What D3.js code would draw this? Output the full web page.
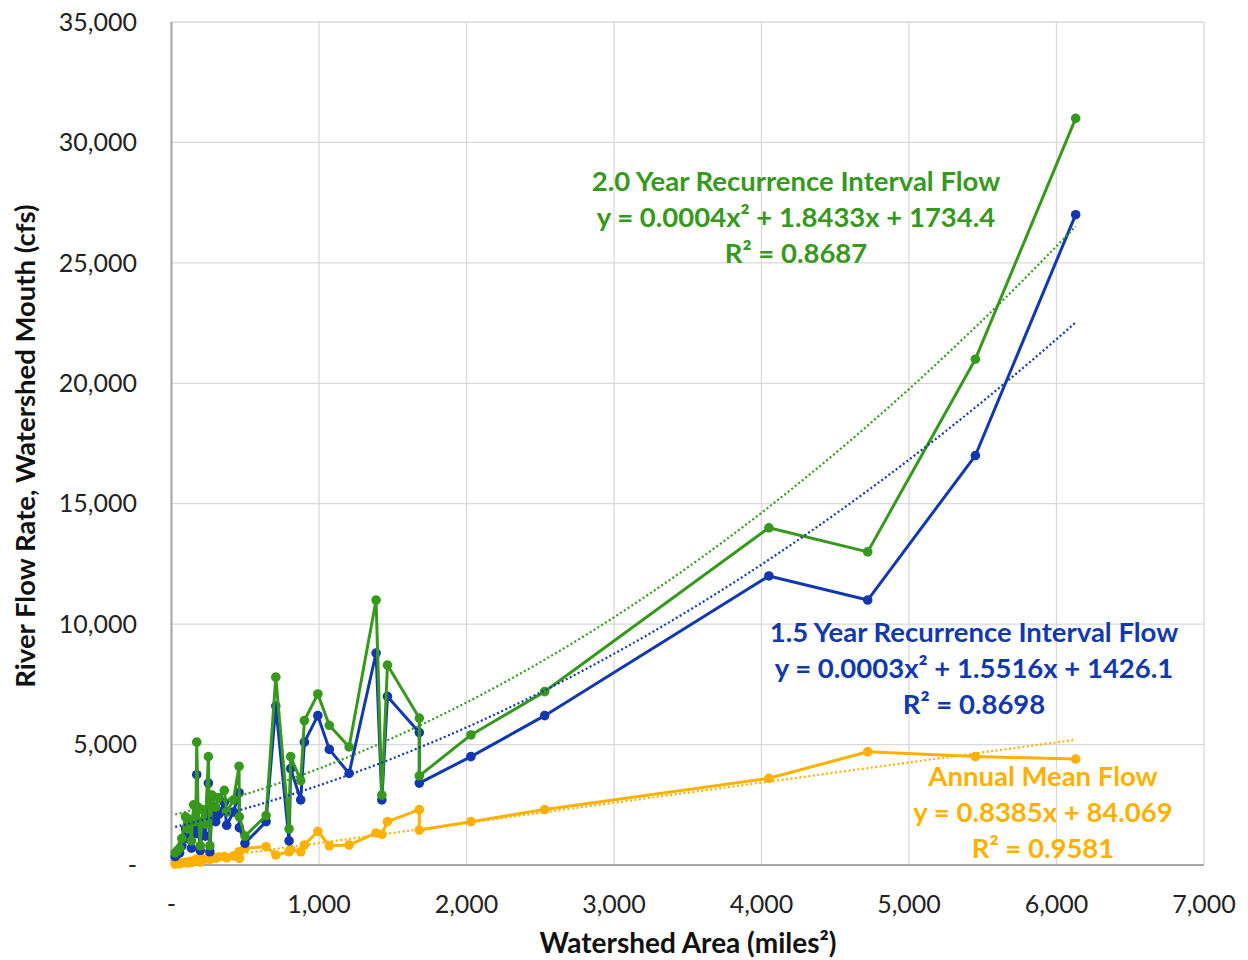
<!DOCTYPE html>
<html>
<head>
  <meta charset="utf-8">
  <title>River Flow Rate vs Watershed Area</title>
  <style>
    body { margin: 0; background: white; font-family: Lato, "Open Sans", sans-serif; }
    .tick-label { font-size: 25px; fill: #222; }
    .axis-title { font-size: 28px; font-weight: bold; fill: #111; }
    .fit-label { font-size: 27.5px; font-weight: bold; text-anchor: middle; }
  </style>
  <script src="https://d3js.org/d3.v7.min.js"></script>
</head>
<body>
  <svg id="chart" width="1248" height="960"></svg>
  <script>
    // watershed area (miles²), in the order of the source table
    const area = [25, 40, 55, 70, 95, 110, 120, 135, 150, 165, 171, 180, 195, 210, 230, 250, 260, 275, 300, 320,
                  358, 374, 420, 458, 460, 498, 641, 707, 797, 808, 876, 901, 992, 1070, 1204, 1387, 1426, 1464,
                  1680, 1680, 2030, 2530, 4050, 4720, 5450, 6130];
    // annual mean flow (cfs)
    const annualFlow = [30, 60, 50, 90, 110, 80, 140, 100, 180, 200, 250, 150, 120, 220, 260, 300, 230, 350, 280, 330,
                        350, 300, 380, 550, 280, 700, 760, 415, 550, 650, 550, 830, 1400, 800, 830, 1330, 1270, 1800,
                        2300, 1450, 1800, 2300, 3600, 4700, 4500, 4400];
    // 1.5 year recurrence interval flow (cfs)
    const flow15 = [350, 450, 500, 800, 1500, 1100, 1400, 700, 1900, 1300, 3750, 1800, 600, 1700, 1200, 3400, 550, 2400, 1800, 2100,
                    2600, 1650, 2200, 3000, 1550, 900, 1800, 6600, 1000, 4000, 2700, 5100, 6200, 4800, 3800, 8800, 2700, 7000,
                    5500, 3400, 4500, 6200, 12000, 11000, 17000, 27000];
    // 2.0 year recurrence interval flow (cfs)
    const flow20 = [500, 600, 700, 1100, 2000, 1500, 1900, 1000, 2500, 1800, 5100, 2400, 800, 2300, 1700, 4500, 800, 2900, 2400, 2800,
                    3100, 2200, 2700, 4100, 2000, 1200, 2050, 7800, 1500, 4500, 3500, 6000, 7100, 5800, 4900, 11000, 2900, 8300,
                    6100, 3700, 5400, 7200, 14000, 13000, 21000, 31000];

    const xTicks = [0, 1000, 2000, 3000, 4000, 5000, 6000, 7000];
    const yTicks = [0, 5000, 10000, 15000, 20000, 25000, 30000, 35000];

    const series = [
      { name: "Annual Mean Flow", values: annualFlow, color: "#FFB000", degree: 1,
        label: ["Annual Mean Flow", "y = 0.8385x + 84.069", "R² = 0.9581"], lx: 1043, ly: 776 },
      { name: "1.5 Year Recurrence Interval Flow", values: flow15, color: "#1238B0", degree: 2,
        label: ["1.5 Year Recurrence Interval Flow", "y = 0.0003x² + 1.5516x + 1426.1", "R² = 0.8698"], lx: 974, ly: 632 },
      { name: "2.0 Year Recurrence Interval Flow", values: flow20, color: "#36981C", degree: 2,
        label: ["2.0 Year Recurrence Interval Flow", "y = 0.0004x² + 1.8433x + 1734.4", "R² = 0.8687"], lx: 796, ly: 181 }
    ];

    const svg = d3.select("#chart");
    const plotLeft = 171.5, plotRight = 1204, plotTop = 22, plotBottom = 865;

    const x = d3.scaleLinear().domain([0, 7000]).range([plotLeft, plotRight]);
    const y = d3.scaleLinear().domain([0, 35000]).range([plotBottom, plotTop]);
    const fmt = d => d === 0 ? "-" : d3.format(",")(d);

    // gridlines
    svg.append("g").selectAll("line").data(yTicks).enter().append("line")
      .attr("x1", plotLeft).attr("x2", plotRight)
      .attr("y1", d => y(d)).attr("y2", d => y(d))
      .attr("stroke", "#d9d9d9").attr("stroke-width", 1.3);
    svg.append("g").selectAll("line").data(xTicks).enter().append("line")
      .attr("x1", d => x(d)).attr("x2", d => x(d))
      .attr("y1", plotTop).attr("y2", plotBottom)
      .attr("stroke", "#d9d9d9").attr("stroke-width", 1.3);

    // axis lines
    svg.append("line").attr("x1", plotLeft).attr("x2", plotLeft).attr("y1", plotTop).attr("y2", plotBottom)
      .attr("stroke", "#a6a6a6").attr("stroke-width", 2);
    svg.append("line").attr("x1", plotLeft).attr("x2", plotRight).attr("y1", plotBottom).attr("y2", plotBottom)
      .attr("stroke", "#a6a6a6").attr("stroke-width", 2);

    // tick labels
    svg.append("g").selectAll("text").data(yTicks).enter().append("text")
      .attr("class", "tick-label")
      .attr("x", 137).attr("y", d => y(d))
      .attr("dy", "0.35em").attr("text-anchor", "end")
      .text(fmt);
    svg.append("g").selectAll("text").data(xTicks).enter().append("text")
      .attr("class", "tick-label")
      .attr("x", d => x(d)).attr("y", 904)
      .attr("dy", "0.35em").attr("text-anchor", "middle")
      .text(fmt);

    // axis titles
    svg.append("text").attr("class", "axis-title")
      .attr("x", 688).attr("y", 943).attr("dy", "0.35em").attr("text-anchor", "middle")
      .text("Watershed Area (miles²)");
    svg.append("text").attr("class", "axis-title")
      .attr("transform", "translate(25,446) rotate(-90)")
      .attr("dy", "0.35em").attr("text-anchor", "middle")
      .style("font-size", "27.5px")
      .text("River Flow Rate, Watershed Mouth (cfs)");

    // least squares polynomial fit (Excel-style trendline)
    function polyFit(xs, ys, degree) {
      const n = degree + 1;
      const A = [];
      for (let i = 0; i < n; i++) {
        A.push([]);
        for (let j = 0; j < n; j++) A[i].push(d3.sum(xs, v => Math.pow(v, i + j)));
        A[i].push(d3.sum(xs, (v, k) => Math.pow(v, i) * ys[k]));
      }
      for (let c = 0; c < n; c++) {
        for (let r = c + 1; r < n; r++) {
          const f = A[r][c] / A[c][c];
          for (let k = c; k <= n; k++) A[r][k] -= f * A[c][k];
        }
      }
      const coef = new Array(n).fill(0);
      for (let r = n - 1; r >= 0; r--) {
        let s = A[r][n];
        for (let k = r + 1; k < n; k++) s -= A[r][k] * coef[k];
        coef[r] = s / A[r][r];
      }
      return v => coef.reduce((acc, c, i) => acc + c * Math.pow(v, i), 0);
    }

    const line = d3.line().x(d => x(d[0])).y(d => y(d[1]));
    const xMin = d3.min(area), xMax = d3.max(area);
    const fitXs = d3.range(0, 101).map(i => xMin + (xMax - xMin) * i / 100);

    series.forEach(s => {
      const pts = area.map((a, i) => [a, s.values[i]]);
      const g = svg.append("g");
      g.append("path").datum(pts)
        .attr("d", line)
        .attr("fill", "none").attr("stroke", s.color)
        .attr("stroke-width", 3).attr("stroke-linejoin", "round");
      g.selectAll("circle").data(pts).enter().append("circle")
        .attr("cx", d => x(d[0])).attr("cy", d => y(d[1]))
        .attr("r", 4.8).attr("fill", s.color);
    });

    series.forEach(s => {
      const f = polyFit(area, s.values, s.degree);
      svg.append("path").datum(fitXs.map(v => [v, f(v)]))
        .attr("d", line)
        .attr("fill", "none").attr("stroke", s.color)
        .attr("stroke-width", 2.2).attr("stroke-dasharray", "2,2.5");
    });

    // trendline labels
    series.forEach(s => {
      svg.append("g").selectAll("text").data(s.label).enter().append("text")
        .attr("class", "fit-label")
        .attr("fill", s.color)
        .attr("x", s.lx).attr("y", (d, i) => s.ly + i * 36)
        .attr("dy", "0.35em")
        .text(d => d);
    });
  </script>
</body>
</html>
